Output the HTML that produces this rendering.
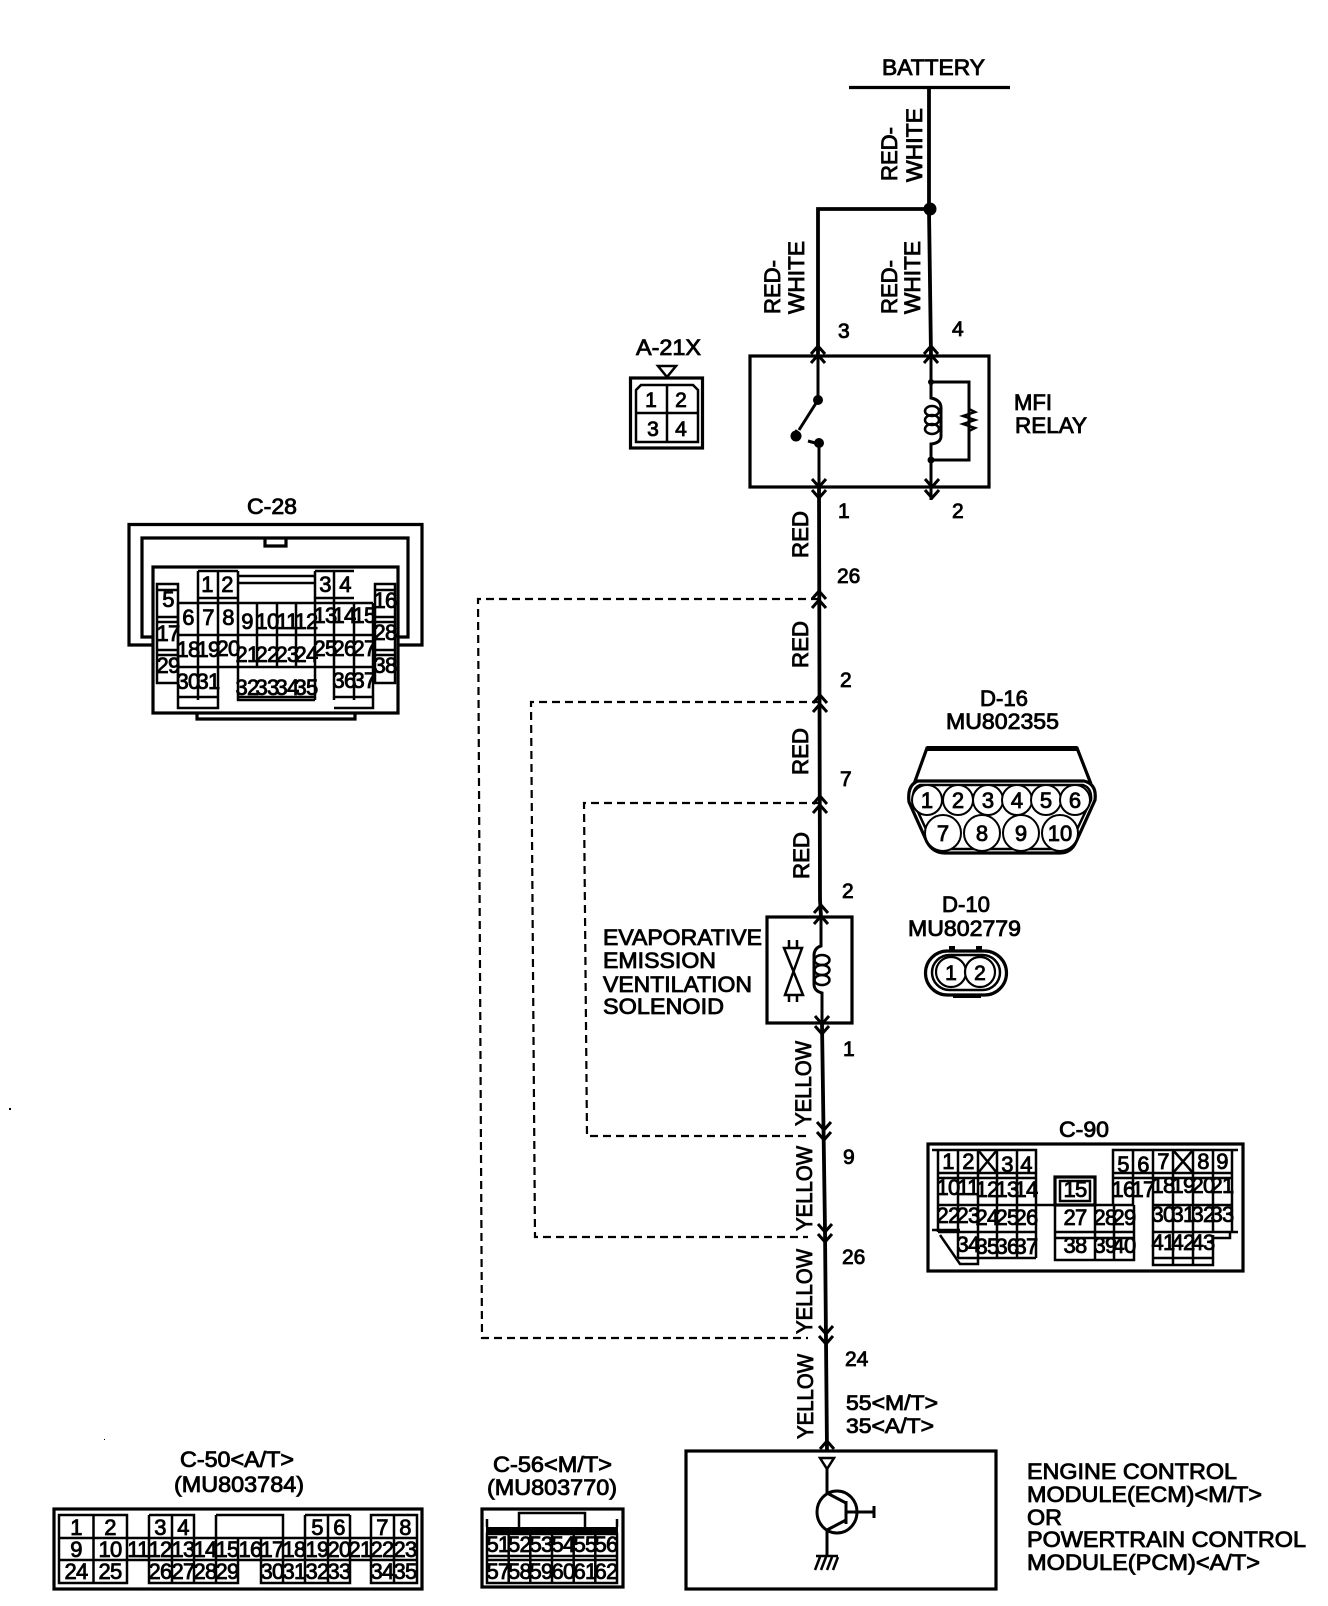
<!DOCTYPE html>
<html><head><meta charset="utf-8"><style>
html,body{margin:0;padding:0;background:#fff}
svg{display:block}
text{font-family:"Liberation Sans",sans-serif;fill:#000;stroke:#000;stroke-width:.85;font-size:22px}
.n{font-size:21px}
.p{font-size:16px;text-anchor:middle;letter-spacing:-.7px;stroke-width:.9}
.q{font-size:17px;text-anchor:middle;letter-spacing:-.7px;stroke-width:.85}
.l{fill:none;stroke:#000;stroke-width:3.2}
.w{fill:none;stroke:#000;stroke-width:3.8}
.m{fill:none;stroke:#000;stroke-width:2.5}
.d{fill:none;stroke:#000;stroke-width:2.2;stroke-dasharray:8 5}
.t{fill:none;stroke:#000;stroke-width:3}
</style></head><body>
<svg width="1328" height="1606" viewBox="0 0 1328 1606" xmlns="http://www.w3.org/2000/svg">
<defs>
<path id="u" d="M-7 5L0-3L7 5" fill="none" stroke="#000" stroke-width="3"/>
<path id="v" d="M-7-5L0 3L7-5" fill="none" stroke="#000" stroke-width="3"/>
</defs>

<!-- battery and relay wires -->
<text x="882" y="75" textLength="103" lengthAdjust="spacingAndGlyphs">BATTERY</text>
<path d="M849 87.500H1010" class="l"/>
<path d="M929 87L929 210L931 356" class="w"/>
<path d="M929 209H818V356" class="w"/>
<circle cx="930" cy="209" r="6.500"/>
<text transform="translate(897,181) rotate(-90)" textLength="54" lengthAdjust="spacingAndGlyphs">RED-</text>
<text transform="translate(922,182) rotate(-90)" textLength="74" lengthAdjust="spacingAndGlyphs">WHITE</text>
<text transform="translate(780,314) rotate(-90)" textLength="54" lengthAdjust="spacingAndGlyphs">RED-</text>
<text transform="translate(804,314) rotate(-90)" textLength="73" lengthAdjust="spacingAndGlyphs">WHITE</text>
<text transform="translate(897,314) rotate(-90)" textLength="54" lengthAdjust="spacingAndGlyphs">RED-</text>
<text transform="translate(920,314) rotate(-90)" textLength="73" lengthAdjust="spacingAndGlyphs">WHITE</text>
<text x="838" y="338" class="n">3</text><text x="952" y="336" class="n">4</text>

<!-- A-21X -->
<text x="636" y="355" textLength="65" lengthAdjust="spacingAndGlyphs">A-21X</text>
<path d="M658 366H676L667 377Z" class="m"/>
<rect x="630.500" y="378" width="72" height="70" class="l"/>
<path d="M636 442V390L641 385H693L698 390V442ZM667 385V442M636 413H698" class="m"/>
<text x="651" y="407" class="n" text-anchor="middle">1</text><text x="681" y="407" class="n" text-anchor="middle">2</text>
<text x="653" y="436" class="n" text-anchor="middle">3</text><text x="681" y="436" class="n" text-anchor="middle">4</text>

<!-- relay -->
<rect x="750" y="356" width="239" height="131" class="l"/>
<use href="#u" x="818" y="349"/><use href="#u" x="818" y="358"/>
<use href="#u" x="931" y="349"/><use href="#u" x="931" y="358"/>
<use href="#v" x="819" y="484"/><use href="#v" x="819" y="495"/>
<use href="#v" x="932" y="484"/><use href="#v" x="932" y="495"/>
<path d="M818 356V400L799 430" class="t"/><circle cx="818" cy="400" r="5"/>
<circle cx="796" cy="436" r="5.500"/><path d="M797 430L793 437M808 441L819 444" class="t"/>
<circle cx="819" cy="443" r="5"/>
<path d="M819 443V502" class="t"/>
<path d="M931 356V398Q941 400 941 408V436Q941 443 931 444V500" class="t"/>
<path d="M931 382H969V460H931" class="t"/>
<circle cx="931" cy="460" r="3.500"/><circle cx="931" cy="382" r="3"/>
<ellipse cx="932" cy="411" rx="7" ry="5" class="m"/><ellipse cx="932" cy="420" rx="7" ry="5" class="m"/><ellipse cx="932" cy="429" rx="7" ry="5" class="m"/>
<path d="M969 409L975 412L963 416L975 420L963 424L975 428L969 431" class="m"/>
<text x="1014" y="410" textLength="38" lengthAdjust="spacingAndGlyphs">MFI</text>
<text x="1015" y="433" textLength="72" lengthAdjust="spacingAndGlyphs">RELAY</text>
<text x="838" y="518" class="n">1</text><text x="952" y="518" class="n">2</text>

<!-- main wire -->
<path d="M819 487L820 900L821 917M822 1024L825 1230L827 1451" class="w"/>
<use href="#u" x="819" y="594"/><use href="#u" x="819" y="603"/>
<use href="#u" x="820" y="698"/><use href="#u" x="820" y="707"/>
<use href="#u" x="820" y="799"/><use href="#u" x="820" y="808"/>
<use href="#u" x="821" y="908"/><use href="#u" x="821" y="919"/>
<use href="#v" x="822" y="1021"/><use href="#v" x="822" y="1031"/>
<use href="#v" x="824" y="1127"/><use href="#v" x="824" y="1137"/>
<use href="#v" x="825" y="1229"/><use href="#v" x="825" y="1239"/>
<use href="#v" x="826" y="1331"/><use href="#v" x="826" y="1341"/>
<use href="#u" x="827" y="1444"/>
<path d="M819 599H478L482 1338H808" class="d"/>
<path d="M820 702H531L535 1237H808" class="d"/>
<path d="M820 803H584L587 1136H808" class="d"/>

<text transform="translate(808,558) rotate(-90)" textLength="47" lengthAdjust="spacingAndGlyphs">RED</text>
<text transform="translate(808,668) rotate(-90)" textLength="47" lengthAdjust="spacingAndGlyphs">RED</text>
<text transform="translate(808,775) rotate(-90)" textLength="47" lengthAdjust="spacingAndGlyphs">RED</text>
<text transform="translate(809,879) rotate(-90)" textLength="47" lengthAdjust="spacingAndGlyphs">RED</text>
<text transform="translate(811,1126) rotate(-90)" textLength="85" lengthAdjust="spacingAndGlyphs">YELLOW</text>
<text transform="translate(812,1231) rotate(-90)" textLength="85" lengthAdjust="spacingAndGlyphs">YELLOW</text>
<text transform="translate(812,1334) rotate(-90)" textLength="85" lengthAdjust="spacingAndGlyphs">YELLOW</text>
<text transform="translate(813,1439) rotate(-90)" textLength="85" lengthAdjust="spacingAndGlyphs">YELLOW</text>
<text x="837" y="583" class="n">26</text><text x="840" y="687" class="n">2</text>
<text x="840" y="786" class="n">7</text><text x="842" y="898" class="n">2</text>
<text x="843" y="1056" class="n">1</text><text x="843" y="1164" class="n">9</text>
<text x="842" y="1264" class="n">26</text><text x="845" y="1366" class="n">24</text>
<text x="846" y="1410" class="n" textLength="92" lengthAdjust="spacingAndGlyphs">55&lt;M/T&gt;</text>
<text x="846" y="1433" class="n" textLength="88" lengthAdjust="spacingAndGlyphs">35&lt;A/T&gt;</text>

<!-- solenoid -->
<rect x="767" y="917" width="85" height="106" class="l"/>
<path d="M821 917V946Q814 948 814 956V984Q814 991 822 993V1024" class="t"/>
<ellipse cx="822" cy="960" rx="7.500" ry="5" class="m"/><ellipse cx="822" cy="970" rx="7.500" ry="5" class="m"/><ellipse cx="822" cy="980" rx="7.500" ry="5" class="m"/>
<path d="M784 948H802L785 995H803ZM789 940V948M797 940V948M789 995V1002M797 995V1002" class="m"/>
<text x="603" y="945" textLength="159" lengthAdjust="spacingAndGlyphs">EVAPORATIVE</text>
<text x="603" y="968" textLength="113" lengthAdjust="spacingAndGlyphs">EMISSION</text>
<text x="603" y="992" textLength="149" lengthAdjust="spacingAndGlyphs">VENTILATION</text>
<text x="603" y="1014" textLength="121" lengthAdjust="spacingAndGlyphs">SOLENOID</text>

<!-- D-16 -->
<text x="980" y="706" textLength="48" lengthAdjust="spacingAndGlyphs">D-16</text>
<text x="946" y="729" textLength="113" lengthAdjust="spacingAndGlyphs">MU802355</text>
<path d="M914 784L927 748H1077L1091 784" class="l"/>
<path d="M927 748.500H1077" fill="none" stroke="#000" stroke-width="5"/>
<path d="M918 781H1084Q1097 784 1095 800L1076 842Q1071 853 1060 853H945Q933 853 927 842L909 802Q907 785 918 781Z" class="l"/>
<path d="M920 785H1083Q1092 788 1091 800L1072 840Q1068 849 1058 849H947Q937 849 931 840L913 801Q912 788 920 785Z" class="m" stroke-width="1.500"/>
<g fill="#fff" stroke="#000" stroke-width="2">
<circle cx="927" cy="800" r="15"/><circle cx="958" cy="800" r="15"/><circle cx="988" cy="800" r="15"/><circle cx="1017" cy="800" r="15"/><circle cx="1046" cy="800" r="15"/><circle cx="1075" cy="800" r="15"/>
<circle cx="943" cy="833" r="18"/><circle cx="982" cy="833" r="18"/><circle cx="1021" cy="833" r="18"/><circle cx="1060" cy="833" r="18"/>
</g>
<g class="n" text-anchor="middle">
<text x="927" y="808">1</text><text x="958" y="808">2</text><text x="988" y="808">3</text><text x="1017" y="808">4</text><text x="1046" y="808">5</text><text x="1075" y="808">6</text>
<text x="943" y="841">7</text><text x="982" y="841">8</text><text x="1021" y="841">9</text><text x="1060" y="841">10</text>
</g>

<!-- D-10 -->
<text x="942" y="912" textLength="48" lengthAdjust="spacingAndGlyphs">D-10</text>
<text x="908" y="936" textLength="113" lengthAdjust="spacingAndGlyphs">MU802779</text>
<rect x="925.500" y="951" width="81" height="44" rx="22" class="l"/>
<rect x="932" y="955" width="68" height="35" rx="17.500" class="m" stroke-width="1.500"/>
<path d="M949 946h6v5h-6zM976 946h6v5h-6z"/>
<rect x="953" y="994" width="28" height="4" fill="#000"/>
<circle cx="951" cy="972" r="15" fill="#fff" stroke="#000" stroke-width="2.200"/>
<circle cx="980" cy="972" r="15" fill="#fff" stroke="#000" stroke-width="2.200"/>
<text x="951" y="980" class="n" text-anchor="middle">1</text><text x="980" y="980" class="n" text-anchor="middle">2</text>

<!-- C-28 -->
<text x="247" y="514" textLength="50" lengthAdjust="spacingAndGlyphs">C-28</text>
<path d="M153 645H129V524.500H422V645H398" class="l"/>
<path d="M153 637H142V538H408V637H398" class="l"/>
<path d="M265 538V546H286V538" class="l"/>
<rect x="153" y="567" width="245" height="146" class="l"/>
<path d="M197 713V719H355V713" class="l"/>
<path d="M198 571V635M218 571V635M238 571V603M198 571H238M198 598H238M315 571V635M334 571V635M354 603V635M315 571H354M315 598H354M238 576H315M238 583H315M178 603H373M178 635H373M178 603V700M238 603V635M257 603V667M277 603V667M296 603V667M373 603V700M178 667H373M198 635V700M218 635V667M238 635V700M315 635V700M334 635V700M354 635V700M178 690V708H218V667M178 697H218M238 667V700H315M238 697H315M334 708H373V667M334 697H373" class="m"/>
<path d="M157 584H178V683H157ZM157 617H178M157 622H178M157 650H178M157 655H178M375 584H395V683H375ZM375 617H395M375 622H395M375 650H395M375 655H395M157 590H178M375 590H395" class="m"/>
<g class="p">
<text x="207" y="592">1</text><text x="227" y="592">2</text><text x="325" y="592">3</text><text x="345" y="592">4</text>
<text x="168" y="607">5</text><text x="385" y="608">16</text>
<text x="188" y="625">6</text><text x="208" y="625">7</text><text x="228" y="625">8</text>
<text x="247" y="629">9</text><text x="267" y="629">10</text><text x="287" y="629">11</text><text x="306" y="629">12</text>
<text x="325" y="623">13</text><text x="344" y="623">14</text><text x="364" y="623">15</text>
<text x="168" y="641">17</text><text x="385" y="640">28</text>
<text x="188" y="657">18</text><text x="208" y="657">19</text><text x="228" y="656">20</text>
<text x="247" y="662">21</text><text x="267" y="662">22</text><text x="287" y="662">23</text><text x="306" y="662">24</text>
<text x="325" y="656">25</text><text x="344" y="656">26</text><text x="364" y="656">27</text>
<text x="168" y="673">29</text><text x="385" y="673">38</text>
<text x="188" y="689">30</text><text x="208" y="689">31</text>
<text x="247" y="695">32</text><text x="267" y="695">33</text><text x="287" y="695">34</text><text x="306" y="695">35</text>
<text x="344" y="688">36</text><text x="364" y="688">37</text>
</g>

<!-- C-90 -->
<text x="1059" y="1137" textLength="50" lengthAdjust="spacingAndGlyphs">C-90</text>
<rect x="928" y="1144" width="315" height="127" class="l"/>
<path d="M932 1150H1036V1258M938 1150V1232M958 1150V1258M978 1150V1258M997 1150V1258M1017 1150V1258M938 1173H1036M938 1178H1036M938 1205H1134M938 1232H1036M932 1230H960M940 1235L960 1264H978V1258M958 1258H1036" class="m"/>
<path d="M978 1150L997 1173M997 1150L978 1173" class="m"/>
<rect x="1055" y="1177" width="40" height="28" class="l"/>
<rect x="1060" y="1181" width="30" height="20" class="m"/>
<path d="M1055 1205V1260H1134V1205M1095 1205V1260M1114 1205V1260M1055 1232H1134M1055 1238H1134" class="m"/>
<path d="M1238 1150H1113V1205M1133 1150V1205M1153 1150V1265H1213V1235M1173 1150V1265M1193 1150V1265M1213 1150V1232M1232 1150V1232M1113 1173H1232M1113 1178H1232M1153 1205H1232M1153 1232H1238M1213 1238H1230V1232M1153 1258H1213" class="m"/>
<path d="M1173 1150L1193 1173M1193 1150L1173 1173" class="m"/>
<g class="p">
<text x="948" y="1169">1</text><text x="968" y="1169">2</text><text x="1007" y="1172">3</text><text x="1026" y="1172">4</text>
<text x="948" y="1195">10</text><text x="968" y="1195">11</text><text x="987" y="1197">12</text><text x="1007" y="1197">13</text><text x="1026" y="1197">14</text>
<text x="948" y="1223">22</text><text x="968" y="1223">23</text><text x="987" y="1225">24</text><text x="1007" y="1225">25</text><text x="1026" y="1225">26</text>
<text x="968" y="1252">34</text><text x="987" y="1254">35</text><text x="1007" y="1254">36</text><text x="1026" y="1254">37</text>
<text x="1075" y="1197">15</text><text x="1075" y="1225">27</text><text x="1075" y="1253">38</text>
<text x="1105" y="1225">28</text><text x="1124" y="1225">29</text><text x="1105" y="1253">39</text><text x="1124" y="1253">40</text>
<text x="1123" y="1172">5</text><text x="1143" y="1172">6</text><text x="1163" y="1169">7</text><text x="1203" y="1169">8</text><text x="1222" y="1169">9</text>
<text x="1123" y="1197">16</text><text x="1143" y="1197">17</text><text x="1163" y="1193">18</text><text x="1183" y="1193">19</text><text x="1203" y="1193">20</text><text x="1222" y="1193">21</text>
<text x="1163" y="1222">30</text><text x="1183" y="1222">31</text><text x="1203" y="1222">32</text><text x="1222" y="1222">33</text>
<text x="1163" y="1250">41</text><text x="1183" y="1250">42</text><text x="1203" y="1250">43</text>
</g>

<!-- C-50 -->
<text x="180" y="1467" textLength="114" lengthAdjust="spacingAndGlyphs">C-50&lt;A/T&gt;</text>
<text x="174" y="1492" textLength="130" lengthAdjust="spacingAndGlyphs">(MU803784)</text>
<rect x="54" y="1509" width="368" height="80" class="l"/>
<path d="M59 1515H127V1583H59ZM93.500 1515V1583M59 1538H417M59 1560H417M149 1515H194V1538M149 1515V1583H238V1560M172 1515V1583M194 1538V1583M216 1515H283V1538M216 1515V1583M238 1538V1560M261 1538V1583H350V1538M283 1538V1583M305 1515V1583M328 1515V1583M350 1515V1583M305 1515H350M371 1515H417V1583H371ZM394 1515V1583M127 1538V1560" class="m"/>
<g class="q">
<text x="76" y="1535">1</text><text x="110" y="1535">2</text><text x="160" y="1535">3</text><text x="183" y="1535">4</text><text x="317" y="1535">5</text><text x="339" y="1535">6</text><text x="382" y="1535">7</text><text x="405" y="1535">8</text>
<text x="76" y="1557">9</text><text x="110" y="1557">10</text><text x="138" y="1557">11</text><text x="160" y="1557">12</text><text x="183" y="1557">13</text><text x="205" y="1557">14</text><text x="227" y="1557">15</text><text x="250" y="1557">16</text><text x="272" y="1557">17</text><text x="294" y="1557">18</text><text x="317" y="1557">19</text><text x="339" y="1557">20</text><text x="360" y="1557">21</text><text x="382" y="1557">22</text><text x="405" y="1557">23</text>
<text x="76" y="1579">24</text><text x="110" y="1579">25</text><text x="160" y="1579">26</text><text x="183" y="1579">27</text><text x="205" y="1579">28</text><text x="227" y="1579">29</text><text x="272" y="1579">30</text><text x="294" y="1579">31</text><text x="317" y="1579">32</text><text x="339" y="1579">33</text><text x="382" y="1579">34</text><text x="405" y="1579">35</text>
</g>

<!-- C-56 -->
<text x="493" y="1472" textLength="119" lengthAdjust="spacingAndGlyphs">C-56&lt;M/T&gt;</text>
<text x="487" y="1495" textLength="130" lengthAdjust="spacingAndGlyphs">(MU803770)</text>
<rect x="482" y="1509" width="141" height="78" class="l"/>
<path d="M519 1527V1513H585V1527M487 1527V1519M617 1527V1519" class="m"/>
<rect x="486" y="1527" width="132" height="7"/>
<path d="M487 1534H617V1583H487ZM508.700 1534V1583M530.300 1534V1583M552 1534V1583M573.700 1534V1583M595.300 1534V1583M487 1556H617M487 1560H617" class="m"/>
<g class="q">
<text x="498" y="1552">51</text><text x="519.500" y="1552">52</text><text x="541" y="1552">53</text><text x="563" y="1552">54</text><text x="585" y="1552">55</text><text x="606" y="1552">56</text>
<text x="498" y="1579">57</text><text x="519.500" y="1579">58</text><text x="541" y="1579">59</text><text x="563" y="1579">60</text><text x="585" y="1579">61</text><text x="606" y="1579">62</text>
</g>

<!-- ECM -->
<rect x="686" y="1451" width="310" height="138" class="l"/>
<path d="M820 1458H834L827 1469Z" class="m"/>
<path d="M827 1469V1493M827 1530V1557M846 1501V1524M846 1512H874M874 1506V1518M827 1493L846 1503M827 1530L846 1520" class="t"/>
<ellipse cx="837" cy="1512" rx="20" ry="21" class="t"/>
<path d="M816 1556H838M820 1557L815 1570M826 1557L821 1570M832 1557L827 1570M838 1557L833 1570" class="m"/>
<text x="1027" y="1479" textLength="210" lengthAdjust="spacingAndGlyphs">ENGINE CONTROL</text>
<text x="1027" y="1502" textLength="235" lengthAdjust="spacingAndGlyphs">MODULE(ECM)&lt;M/T&gt;</text>
<text x="1027" y="1525" textLength="35" lengthAdjust="spacingAndGlyphs">OR</text>
<text x="1027" y="1547" textLength="279" lengthAdjust="spacingAndGlyphs">POWERTRAIN CONTROL</text>
<text x="1027" y="1570" textLength="233" lengthAdjust="spacingAndGlyphs">MODULE(PCM)&lt;A/T&gt;</text>
<rect x="9" y="1108" width="2" height="2"/><rect x="104" y="1439" width="1" height="1"/>
</svg>
</body></html>
